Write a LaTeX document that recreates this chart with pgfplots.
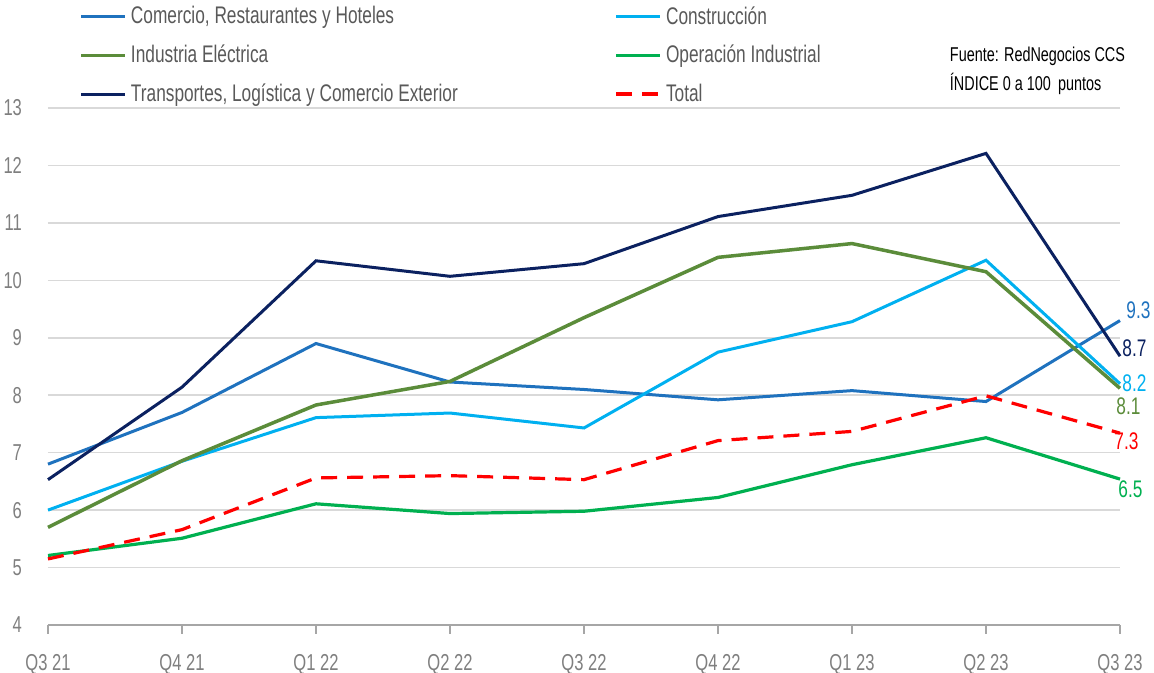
\documentclass[border=0pt]{standalone}
\usepackage{pgfplots}
\pgfplotsset{compat=1.18}
\usepackage{fontspec}
\setmainfont{Liberation Sans}[FakeStretch=0.72]
\definecolor{cComercio}{HTML}{1F72BE}
\definecolor{cConst}{HTML}{00B0F0}
\definecolor{cElec}{HTML}{5B8C3A}
\definecolor{cOper}{HTML}{00B050}
\definecolor{cTrans}{HTML}{0B2160}
\definecolor{cTotal}{HTML}{FF0000}
\definecolor{gridgray}{HTML}{D9D9D9}
\definecolor{axisgray}{HTML}{A6A6A6}
\definecolor{ticktext}{HTML}{7F7F7F}
\definecolor{legtext}{HTML}{595959}
\begin{document}
\begin{tikzpicture}
\useasboundingbox (-24pt,-24pt) rectangle (553pt,312.5pt);
\begin{axis}[
  scale only axis, width=536pt, height=258.5pt,
  xmin=0, xmax=8, ymin=4, ymax=13,
  xtick={0,...,8},
  xticklabels={Q3 21,Q4 21,Q1 22,Q2 22,Q3 22,Q4 22,Q1 23,Q2 23,Q3 23},
  ytick={4,...,13},
  /pgf/number format/assume math mode=true,
  axis lines*=left,
  axis line style={-},
  x axis line style={draw=axisgray, line width=0.9pt},
  y axis line style={draw=none},
  ytick style={draw=none},
  xtick style={draw=axisgray, line width=0.8pt},
  major tick length=4.5pt,
  tick align=outside,
  ymajorgrids,
  grid style={color=gridgray, line width=0.8pt},
  tick label style={font=\fontsize{11.5}{13}\selectfont, text=ticktext},
  xticklabel style={yshift=-6.5pt},
  yticklabel style={xshift=-5pt},
  legend columns=2,
  legend cell align=left,
  legend image code/.code={\draw[#1] (0pt,0pt) -- (22pt,0pt);},
  legend style={draw=none, fill=none, at={(0.029,1.205)}, anchor=north west,
    font=\fontsize{12}{14}\selectfont, text=legtext, inner sep=0pt,
    row sep=5pt,
    /tikz/every even column/.append style={column sep=76.5pt}},
  clip=false,
]
\addplot[cComercio, line width=1.5pt] coordinates {(0,6.80) (1,7.70) (2,8.90) (3,8.23) (4,8.10) (5,7.92) (6,8.08) (7,7.89) (8,9.30)};
\addlegendentry{Comercio, Restaurantes y Hoteles}
\addplot[cConst, line width=1.5pt] coordinates {(0,6.00) (1,6.85) (2,7.61) (3,7.69) (4,7.43) (5,8.75) (6,9.28) (7,10.35) (8,8.20)};
\addlegendentry{Construcción}
\addplot[cElec, line width=1.75pt] coordinates {(0,5.70) (1,6.86) (2,7.83) (3,8.24) (4,9.35) (5,10.40) (6,10.64) (7,10.15) (8,8.12)};
\addlegendentry{Industria Eléctrica}
\addplot[cOper, line width=1.6pt] coordinates {(0,5.21) (1,5.51) (2,6.11) (3,5.94) (4,5.98) (5,6.22) (6,6.79) (7,7.26) (8,6.54)};
\addlegendentry{Operación Industrial}
\addplot[cTrans, line width=1.5pt] coordinates {(0,6.53) (1,8.14) (2,10.34) (3,10.07) (4,10.29) (5,11.11) (6,11.48) (7,12.21) (8,8.68)};
\addlegendentry{Transportes, Logística y Comercio Exterior}
\addplot[cTotal, line width=1.6pt, dash pattern=on 8pt off 5pt] coordinates {(0,5.15) (1,5.66) (2,6.56) (3,6.60) (4,6.53) (5,7.21) (6,7.37) (7,7.99) (8,7.34)};
\addlegendentry{Total}
\begin{scope}[every node/.style={font=\fontsize{12}{13}\selectfont, inner sep=0pt, anchor=west}]
\node[text=cComercio] at (axis cs:8,9.30) [xshift=3pt, yshift=5pt] {9.3};
\node[text=cTrans] at (axis cs:8,8.68) [xshift=1pt, yshift=4pt] {8.7};
\node[text=cConst] at (axis cs:8,8.20) [xshift=1pt, yshift=0pt] {8.2};
\node[text=cElec] at (axis cs:8,8.12) [xshift=-2pt, yshift=-9pt] {8.1};
\node[text=cTotal] at (axis cs:8,7.34) [xshift=-3pt, yshift=-4pt] {7.3};
\node[text=cOper] at (axis cs:8,6.54) [xshift=-1pt, yshift=-5pt] {6.5};
\end{scope}
\node[anchor=west, inner sep=0pt, font=\fontsize{10}{11}\selectfont] at (rel axis cs:0.841,1.099) {Fuente: RedNegocios CCS};
\node[anchor=west, inner sep=0pt, font=\fontsize{10}{11}\selectfont] at (rel axis cs:0.841,1.046) {ÍNDICE 0 a 100\, puntos};
\end{axis}
\end{tikzpicture}
\end{document}
